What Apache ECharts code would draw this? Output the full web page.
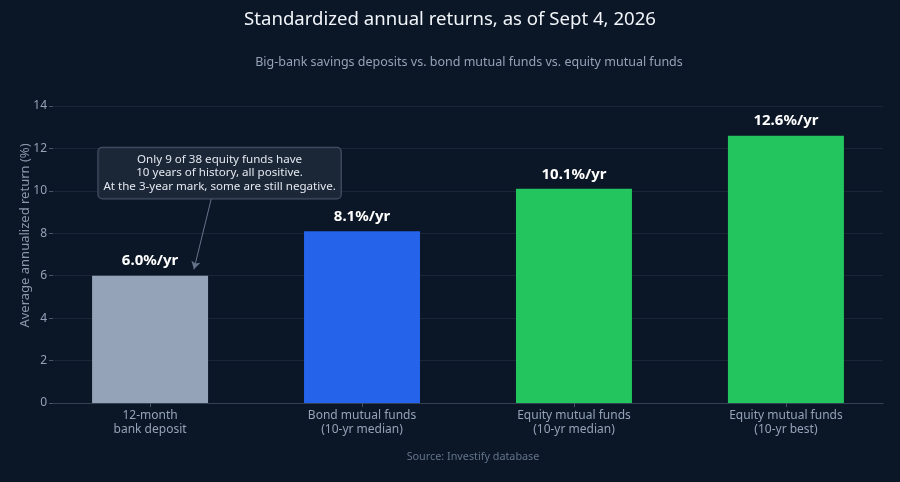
<!DOCTYPE html>
<html><head><meta charset="utf-8">
<script src="https://cdn.jsdelivr.net/npm/echarts@6/dist/echarts.min.js"></script>
<style>html,body{margin:0;padding:0;background:#0b1627;}#c{width:900px;height:482px;}</style>
</head><body><div id="c"></div>
<script>
const categories = ['12-month\nbank deposit', 'Bond mutual funds\n(10-yr median)', 'Equity mutual funds\n(10-yr median)', 'Equity mutual funds\n(10-yr best)'];
const returns = [6.0, 8.1, 10.1, 12.6];
const barColors = ['#94a3b8', '#2563eb', '#22c55e', '#22c55e'];
const yTicks = [0, 2, 4, 6, 8, 10, 12, 14];
const noteText = 'Only 9 of 38 equity funds have\n10 years of history, all positive.\nAt the 3-year mark, some are still negative.';

const chart = echarts.init(document.getElementById('c'));
const FONT = '"Noto Sans", "Open Sans", sans-serif';
chart.setOption({
  backgroundColor: '#0b1627',
  textStyle: { fontFamily: FONT },
  title: [
    { text: 'Standardized annual returns, as of Sept 4, 2026', left: 'center', top: 5,
      textStyle: { color: '#f1f5f9', fontSize: 18.6, fontWeight: 'normal', fontFamily: FONT } },
    { text: 'Big-bank savings deposits vs. bond mutual funds vs. equity mutual funds', left: 464, textAlign: 'center', top: 51,
      textStyle: { color: '#94a3b8', fontSize: 12.5, fontWeight: 'normal', fontFamily: FONT } },
    { text: 'Source: Investify database', left: 468, textAlign: 'center', top: 446,
      textStyle: { color: '#64748b', fontSize: 10.8, fontWeight: 'normal', fontFamily: FONT } }
  ],
  grid: { left: 53, right: 17, top: 106, bottom: 79 },
  xAxis: {
    type: 'value', min: -0.458, max: 3.458,
    splitLine: { show: false },
    axisLine: { show: true, lineStyle: { color: '#334155', width: 1 } },
    axisTick: { show: true, customValues: [0, 1, 2, 3], length: 4, lineStyle: { color: '#475569' } },
    axisLabel: { customValues: [0, 1, 2, 3], formatter: v => categories[Math.round(v)],
      color: '#94a3b8', fontSize: 12, lineHeight: 14, margin: 6, fontFamily: FONT }
  },
  yAxis: {
    type: 'value', min: 0, max: 14, interval: 2,
    name: 'Average annualized return (%)', nameLocation: 'middle', nameGap: 21, nameMoveOverlap: false,
    nameTextStyle: { color: '#8a97ab', fontSize: 13, fontFamily: FONT, padding: [0, 0, 0, 38] },
    axisLine: { show: false, onZero: false },
    axisTick: { show: true, length: 4, lineStyle: { color: '#475569' } },
    axisLabel: { color: '#94a3b8', fontSize: 12, margin: 6, fontFamily: FONT,
      formatter: v => yTicks.includes(v) ? String(v) : '' },
    splitLine: { lineStyle: { color: '#1a2638', width: 1 } }
  },
  series: [{
    type: 'bar',
    barWidth: 116,
    data: returns.map((v, i) => ({ value: [i, v], itemStyle: { color: barColors[i] } })),
    label: { show: true, position: 'top', distance: 7, color: '#ffffff', fontSize: 15, fontWeight: 'bold',
      fontFamily: FONT, formatter: p => p.value[1].toFixed(1) + '%/yr' },
    markLine: {
      silent: true, symbol: ['none', 'arrow'], symbolSize: [7, 8],
      lineStyle: { color: '#64748b', width: 1, type: 'solid' },
      label: { show: false },
      data: [[{ coord: [0.29, 9.68] }, { coord: [0.207, 6.3] }]]
    },
    markPoint: {
      silent: true, symbol: 'rect', symbolSize: 0,
      data: [{ coord: [0.328, 10.84] }],
      label: { show: true, position: 'inside', formatter: noteText, color: '#e2e8f0', fontSize: 11.6,
        lineHeight: 13.6, align: 'center', fontFamily: FONT,
        backgroundColor: 'rgba(30,41,59,0.85)', borderColor: '#475569', borderWidth: 1, borderRadius: 4,
        padding: [5, 5] }
    }
  }]
});
</script></body></html>
